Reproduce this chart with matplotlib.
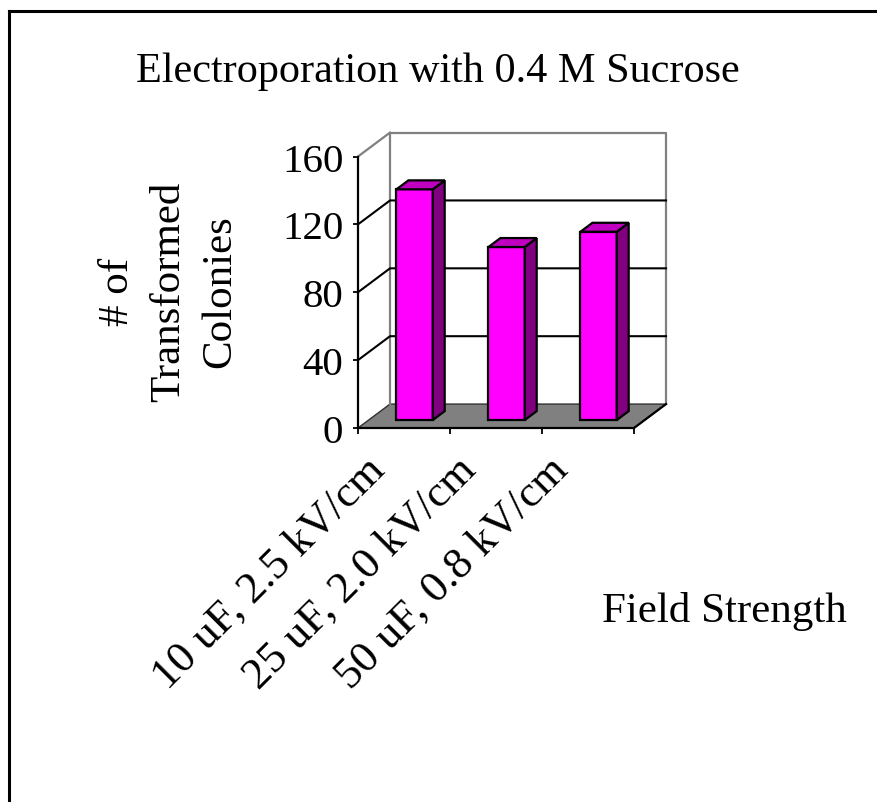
import matplotlib.pyplot as plt
from matplotlib.patches import Polygon
from matplotlib.lines import Line2D
from matplotlib.transforms import ScaledTranslation

# data
conditions = ['10 uF, 2.5 kV/cm', '25 uF, 2.0 kV/cm', '50 uF, 0.8 kV/cm']
colonies = [136, 102, 111]
y_ticks = [0, 40, 80, 120, 160]

plt.rcParams['font.family'] = ['Liberation Serif', 'DejaVu Serif']

fig = plt.figure(figsize=(8.78, 8.03), dpi=100)
ax = fig.add_axes([358/878, 1 - 429/803, 276/878, 271.5/803])
ax.set_xlim(-0.5, len(conditions) - 0.5)
ax.set_ylim(y_ticks[0], y_ticks[-1])
ax.set_facecolor('none')
for s in ax.spines.values():
    s.set_visible(False)

# depth of the fake 3-D box, in data units (x: categories, y: colonies)
DX, DY = 0.348, 14.1
x0, x1 = -0.5, len(conditions) - 0.5
ytop = y_ticks[-1]


def poly(pts, fc, ec, lw, z):
    ax.add_patch(Polygon(pts, closed=True, facecolor=fc, edgecolor=ec,
                         linewidth=lw, zorder=z, clip_on=False))


# floor
poly([(x0, 0), (x1, 0), (x1 + DX, DY), (x0 + DX, DY)], '#808080', '#303030', 1.0, 1)

# walls
ax.plot([x0 + DX, x0 + DX, x1 + DX, x1 + DX], [DY, ytop + DY, ytop + DY, DY],
        color='#808080', lw=1.6, clip_on=False, zorder=2)
ax.plot([x0, x0 + DX], [ytop, ytop + DY], color='#808080', lw=1.6, clip_on=False, zorder=2)
for t in y_ticks[1:-1]:
    ax.plot([x0, x0 + DX, x1 + DX], [t, t + DY, t + DY], color='black', lw=1.5,
            clip_on=False, zorder=2)

# front axis lines
ax.plot([x0, x0], [0, ytop], color='black', lw=1.6, clip_on=False, zorder=3)
ax.plot([x0, x1, x1 + DX], [0, 0, DY], color='black', lw=1.6, clip_on=False, zorder=3)

# bars
w = 0.197
f0, f1 = 0.33, 0.705
ex, ey = (f1 - f0) * DX, (f1 - f0) * DY
for i, v in enumerate(colonies):
    a, b = i - w + f0 * DX, i + w + f0 * DX
    oy = f0 * DY
    poly([(a, oy), (b, oy), (b, v + oy), (a, v + oy)], '#FF00FF', 'black', 1.6, 5)
    poly([(b, oy), (b + ex, oy + ey), (b + ex, v + oy + ey), (b, v + oy)], '#800080', 'black', 1.6, 5)
    poly([(a, v + oy), (b, v + oy), (b + ex, v + oy + ey), (a + ex, v + oy + ey)], '#C000C0', 'black', 1.6, 5)

# ticks
ax.set_yticks(y_ticks)
ax.tick_params(axis='y', direction='out', length=3.6, width=1.3, pad=7, labelsize=29.5)
ax.set_xticks(range(len(conditions)), conditions, rotation=45, ha='right',
              va='center', rotation_mode='anchor')
ax.set_xticks([x0 + k for k in range(len(conditions) + 1)], minor=True)
ax.tick_params(axis='x', which='major', length=0, pad=27, labelsize=32)
ax.tick_params(axis='x', which='minor', direction='out', length=4.3, width=1.3)
shift = ScaledTranslation(-0.26, 0.03, fig.dpi_scale_trans)
for lab in ax.get_xticklabels():
    lab.set_transform(lab.get_transform() + shift)

ax.set_ylabel('# of\nTransformed\nColonies', fontsize=31, va='center',
              multialignment='center', linespacing=1.43)
ax.yaxis.set_label_coords((169 - 358) / 276, (429 - 292) / 271.5)

fig.text(438/878, 1 - 81.7/803, 'Electroporation with 0.4 M Sucrose',
         ha='center', va='baseline', fontsize=30.4)
fig.text(601.7/878, 1 - 621.7/803, 'Field Strength', ha='left', va='baseline',
         fontsize=31)

# outer frame (left and top edges only visible)
fig.add_artist(Line2D([9/878, 9/878], [0, 1 - 12/803], transform=fig.transFigure,
                      color='black', lw=2.2))
fig.add_artist(Line2D([9/878, 1], [1 - 12/803, 1 - 12/803], transform=fig.transFigure,
                      color='black', lw=2.2))

fig.savefig('out.png', dpi=100)
